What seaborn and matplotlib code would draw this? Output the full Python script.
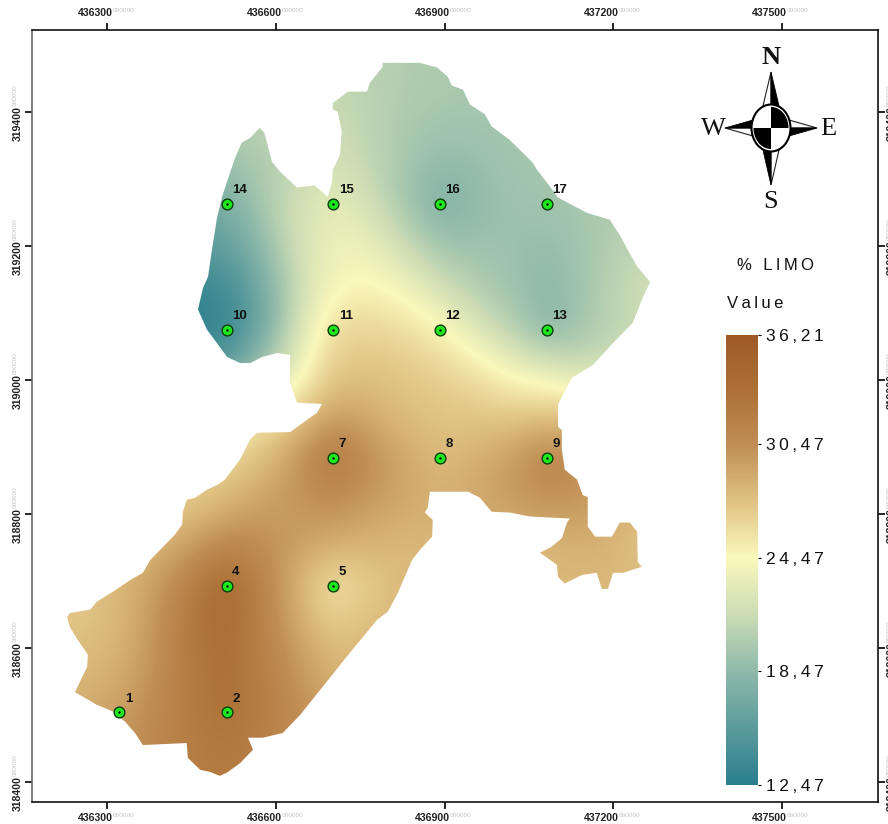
import numpy as np
import pandas as pd
import matplotlib
matplotlib.use('Agg')
import matplotlib.pyplot as plt
from matplotlib.colors import LinearSegmentedColormap
from matplotlib.patches import Polygon, Ellipse
import seaborn as sns

# sampling points
point_ids = [1, 2, 4, 5, 7, 8, 9, 10, 11, 12, 13, 14, 15, 16, 17]
point_x = [436321, 436512, 436512, 436702, 436702, 436892, 437082, 436512, 436702, 436892, 437082, 436512, 436702, 436892, 437082]
point_y = [318504, 318504, 318693, 318693, 318884, 318884, 318884, 319075, 319075, 319075, 319075, 319263, 319263, 319263, 319263]

# % limo
grid_x = [436194, 436258, 436321, 436385, 436448, 436512, 436575, 436639, 436702,
          436765, 436829, 436892, 436956, 437019, 437082, 437146, 437209, 437273]
grid_y = [319454, 319390, 319327, 319263, 319200, 319136, 319073, 319009, 318946,
          318884, 318819, 318756, 318693, 318629, 318566, 318503, 318439, 318376]
limo = [
    [21.0, 21.0, 21.0, 21.0, 21.0, 21.0, 21.0, 21.0, 21.0, 20.6, 20.2, 20.0, 19.8, 19.8, 19.8, 19.8, 19.8, 19.8],
    [20.5, 20.5, 20.5, 20.5, 20.5, 20.5, 20.7, 21.0, 21.5, 20.8, 20.0, 19.6, 19.6, 19.6, 19.8, 19.8, 19.8, 19.8],
    [18.8, 18.8, 18.8, 18.8, 19.0, 19.3, 20.0, 21.0, 22.0, 21.0, 19.6, 18.8, 19.0, 19.5, 19.7, 19.7, 19.7, 19.7],
    [16.5, 16.5, 16.6, 16.8, 17.0, 17.3, 19.8, 22.0, 23.3, 22.0, 19.5, 17.4, 18.6, 19.3, 19.4, 19.8, 20.0, 20.0],
    [15.0, 15.0, 15.0, 15.0, 15.3, 15.8, 18.5, 22.0, 23.7, 23.6, 21.5, 19.3, 19.2, 19.2, 18.8, 19.5, 20.5, 21.0],
    [13.2, 13.2, 13.2, 13.2, 13.3, 13.8, 16.8, 21.5, 24.2, 24.8, 24.0, 22.0, 20.2, 19.3, 18.4, 19.4, 21.0, 22.0],
    [12.8, 12.8, 12.8, 12.8, 12.8, 13.0, 16.5, 22.0, 26.3, 26.5, 26.0, 25.0, 22.8, 20.5, 18.0, 19.6, 21.0, 21.5],
    [15.0, 15.0, 15.0, 15.0, 15.5, 16.0, 20.0, 23.8, 27.0, 27.5, 27.2, 26.6, 25.8, 24.4, 23.2, 22.0, 22.0, 22.0],
    [22.0, 22.0, 22.0, 22.0, 23.0, 24.0, 25.5, 26.8, 29.5, 28.7, 27.7, 27.4, 27.2, 27.0, 27.5, 27.5, 27.5, 27.5],
    [26.0, 26.0, 26.0, 26.0, 26.0, 26.5, 27.5, 30.0, 33.0, 30.6, 29.0, 27.8, 28.5, 29.6, 31.5, 30.5, 30.0, 30.0],
    [27.0, 27.0, 27.0, 27.0, 27.0, 28.0, 29.3, 30.0, 30.6, 29.8, 29.0, 28.5, 29.0, 29.7, 30.3, 30.0, 29.0, 28.0],
    [28.0, 28.0, 28.0, 28.0, 29.3, 31.0, 30.5, 29.5, 28.8, 28.3, 28.0, 28.0, 28.0, 28.0, 28.0, 28.5, 28.0, 26.8],
    [27.0, 27.0, 28.0, 29.5, 32.0, 34.5, 31.5, 28.3, 25.2, 26.8, 28.0, 28.0, 28.0, 28.0, 28.0, 28.0, 28.0, 28.0],
    [27.0, 27.5, 28.0, 30.0, 32.5, 34.0, 31.5, 29.0, 27.0, 28.0, 28.0, 28.0, 28.0, 28.0, 28.0, 28.0, 28.0, 28.0],
    [28.0, 28.0, 28.5, 30.3, 32.3, 33.5, 32.0, 30.0, 28.3, 28.0, 28.0, 28.0, 28.0, 28.0, 28.0, 28.0, 28.0, 28.0],
    [28.5, 28.8, 29.5, 30.8, 32.3, 33.3, 32.0, 30.5, 29.3, 29.0, 28.0, 28.0, 28.0, 28.0, 28.0, 28.0, 28.0, 28.0],
    [30.0, 30.0, 30.2, 31.0, 32.0, 32.5, 31.8, 30.8, 30.0, 29.0, 28.0, 28.0, 28.0, 28.0, 28.0, 28.0, 28.0, 28.0],
    [30.0, 30.0, 30.2, 31.0, 32.0, 32.5, 31.8, 30.8, 30.0, 29.0, 28.0, 28.0, 28.0, 28.0, 28.0, 28.0, 28.0, 28.0],
]

# outline of the study area
border_x = [436790, 436856, 436887, 436906, 436913, 436933, 436945, 436972, 436984, 437016, 437056, 437065,
            437088, 437102, 437154, 437194, 437212, 437226, 437243, 437266, 437251, 437235, 437200, 437164,
            437127, 437111, 437102, 437102, 437109, 437109, 437114, 437136, 437146, 437155, 437155, 437168,
            437198, 437212, 437230, 437243, 437244, 437251, 437218, 437200, 437191, 437180, 437171, 437145,
            437114, 437102, 437100, 437070, 437091, 437109, 437118, 437123, 437052, 437016, 436984, 436963,
            436942, 436874, 436870, 436865, 436879, 436878, 436856, 436842, 436817, 436799, 436780, 436726,
            436643, 436612, 436577, 436550, 436559, 436536, 436513, 436500, 436482, 436465, 436443, 436441,
            436363, 436349, 436331, 436310, 436281, 436242, 436264, 436265, 436247, 436233, 436228, 436233,
            436269, 436281, 436310, 436340, 436363, 436376, 436420, 436433, 436434, 436441, 436456, 436477,
            436495, 436509, 436536, 436554, 436566, 436625, 436673, 436682, 436637, 436625, 436625, 436602,
            436575, 436554, 436536, 436513, 436477, 436461, 436470, 436479, 436486, 436495, 436505, 436527,
            436539, 436554, 436571, 436579, 436593, 436607, 436637, 436669, 436692, 436700, 436701, 436714,
            436717, 436710, 436701, 436701, 436728, 436762, 436767, 436789]
border_y = [319473, 319473, 319466, 319452, 319439, 319433, 319411, 319396, 319378, 319358, 319325, 319313,
            319288, 319272, 319249, 319239, 319216, 319194, 319169, 319146, 319119, 319085, 319055, 319022,
            319003, 318978, 318963, 318930, 318925, 318896, 318866, 318851, 318828, 318825, 318781, 318766,
            318766, 318787, 318787, 318773, 318728, 318721, 318712, 318712, 318688, 318688, 318712, 318709,
            318696, 318706, 318724, 318742, 318751, 318764, 318787, 318793, 318796, 318802, 318803, 318824,
            318833, 318833, 318809, 318802, 318791, 318766, 318746, 318731, 318682, 318654, 318642, 318587,
            318500, 318473, 318466, 318466, 318448, 318428, 318414, 318409, 318415, 318418, 318436, 318458,
            318455, 318473, 318490, 318505, 318515, 318534, 318572, 318590, 318612, 318631, 318646, 318652,
            318657, 318669, 318684, 318701, 318712, 318731, 318769, 318784, 318802, 318821, 318824, 318836,
            318843, 318851, 318881, 318911, 318921, 318922, 318951, 318964, 318966, 318996, 319037, 319040,
            319034, 319025, 319025, 319034, 319075, 319105, 319137, 319154, 319194, 319242, 319276, 319331,
            319354, 319361, 319376, 319369, 319325, 319311, 319287, 319290, 319273, 319296, 319313, 319336,
            319370, 319400, 319403, 319413, 319430, 319430, 319443, 319466]

x_ticks = [436300, 436600, 436900, 437200, 437500]
y_ticks = [318400, 318600, 318800, 319000, 319200, 319400]
legend_ticks = [36.21, 30.47, 24.47, 18.47, 12.47]
ramp_values = [12.47, 18.47, 21.47, 24.47, 27.47, 30.47, 33.3, 36.21]
ramp_colors = ['#2a7e8e', '#8eb9aa', '#ccdcb5', '#faf8bb', '#e0c283', '#c08e55', '#ad7036', '#9e5a28']

W, H = 888, 824
sns.set_style('white')
plt.rcParams['font.family'] = ['Liberation Sans', 'DejaVu Sans']
SERIF = ['Liberation Serif', 'DejaVu Serif']

vmin, vmax = legend_ticks[-1], legend_ticks[0]
cmap = LinearSegmentedColormap.from_list(
    'limo', [((v - vmin) / (vmax - vmin), c) for v, c in zip(ramp_values, ramp_colors)], N=512)

fig = plt.figure(figsize=(W / 100, H / 100), dpi=100)
ax = fig.add_axes([32 / W, 1 - 802 / H, (877.5 - 32) / W, (802 - 30) / H])

# surface
dx = (grid_x[-1] - grid_x[0]) / (len(grid_x) - 1) / 2
dy = (grid_y[0] - grid_y[-1]) / (len(grid_y) - 1) / 2
im = ax.imshow(np.array(limo), cmap=cmap, vmin=vmin, vmax=vmax, aspect='auto', interpolation='bicubic',
               extent=[grid_x[0] - dx, grid_x[-1] + dx, grid_y[-1] - dy, grid_y[0] + dy], zorder=1)
area = Polygon(np.column_stack([border_x, border_y]), closed=True, transform=ax.transData, fc='none', ec='none')
ax.add_patch(area)
im.set_clip_path(area)

# points
points = pd.DataFrame({'x': point_x, 'y': point_y, 'id': point_ids})
sns.scatterplot(data=points, x='x', y='y', ax=ax, s=60, color='#1fe81f', edgecolor='#0b3d0b', linewidth=1.0, zorder=3, legend=False)
sns.scatterplot(data=points, x='x', y='y', ax=ax, s=3, color='black', linewidth=0, zorder=4, legend=False)
for px, py, pid in zip(point_x, point_y, point_ids):
    ax.annotate(str(pid), (px, py), xytext=(4, 5.5), textcoords='offset points', fontsize=9.5,
                fontweight='bold', color='#111111', ha='left', va='bottom', zorder=5)

ax.set_xlim(436165.6, 437670.8)
ax.set_ylim(318370, 319522)
ax.set_xlabel('')
ax.set_ylabel('')
ax.set_xticks(x_ticks)
ax.set_yticks(y_ticks)
ax.tick_params(axis='both', length=5, width=1.2, color='black', top=True, right=True, bottom=True, left=True,
               labelbottom=False, labelleft=False, direction='out')
for name, spine in ax.spines.items():
    spine.set_linewidth(1.2)
    spine.set_color('#666666' if name == 'left' else '#111111')


# coordinate label with its pale run of zeros
def coord_label(value, side):
    tf = ax.get_xaxis_transform() if side in ('top', 'bottom') else ax.get_yaxis_transform()
    main = dict(fontsize=7.6, fontweight='bold', color='#222222', annotation_clip=False)
    ghost = dict(fontsize=4.6, color='#c4c4c4', annotation_clip=False)
    if side in ('top', 'bottom'):
        yy, off = (1, 12) if side == 'top' else (0, -11.5)
        ax.annotate(str(value), (value, yy), xycoords=tf, xytext=(4, off), textcoords='offset points',
                    ha='right', va='center', **main)
        ax.annotate('000000', (value, yy), xycoords=tf, xytext=(4, off + 2), textcoords='offset points',
                    ha='left', va='center', **ghost)
    else:
        xx, off = (0, -10) if side == 'left' else (1, 10)
        ax.annotate(str(value), (xx, value), xycoords=tf, xytext=(off, 4), textcoords='offset points',
                    ha='center', va='top', rotation=90, **main)
        ax.annotate('000000', (xx, value), xycoords=tf, xytext=(off - 2 if side == 'left' else off - 1.5, 4),
                    textcoords='offset points', ha='center', va='bottom', rotation=90, **ghost)


for v in x_ticks:
    coord_label(v, 'top')
    coord_label(v, 'bottom')
for v in y_ticks:
    coord_label(v, 'left')
    coord_label(v, 'right')

# legend bar
cax = fig.add_axes([726 / W, 1 - 785 / H, (758 - 726) / W, (785 - 335) / H])
ramp = np.linspace(vmax, vmin, 300).reshape(-1, 1)
sns.heatmap(ramp, ax=cax, cmap=cmap, vmin=vmin, vmax=vmax, cbar=False, xticklabels=False, yticklabels=False)
cax.yaxis.tick_right()
cax.set_yticks([(vmax - t) / (vmax - vmin) * 300 for t in legend_ticks])
cax.set_yticklabels(['\u2009'.join(f'{t:.2f}'.replace('.', ',')) for t in legend_ticks], rotation=0,
                    fontsize=12.6, color='#111111')
cax.tick_params(axis='y', right=True, length=2.5, width=0.8, pad=3, color='black')
cax.set_xlabel('')
cax.set_ylabel('')

# overlay in pixels for compass and legend titles
over = fig.add_axes([0, 0, 1, 1], facecolor='none')
over.set_xlim(0, W)
over.set_ylim(H, 0)
over.axis('off')
over.text(775, 265, '%\u2009 \u2009L\u2009I\u2009M\u2009O', fontsize=12, ha='center', va='center', color='#111111')
over.text(755, 303, 'V\u2009a\u2009l\u2009u\u2009e', fontsize=12, ha='center', va='center', color='#111111')

cx, cy = 771, 128
half = 8
spikes_black = [
    [(cx, 72), (cx + half, cy - 22), (cx, cy - 22)],
    [(817, cy), (cx + 18, cy + half), (cx + 18, cy)],
    [(cx, 185), (cx - half, cy + 22), (cx, cy + 22)],
    [(725, cy), (cx - 18, cy - half), (cx - 18, cy)],
]
spikes_white = [
    [(cx, 72), (cx - half, cy - 22), (cx, cy - 22)],
    [(817, cy), (cx + 18, cy - half), (cx + 18, cy)],
    [(cx, 185), (cx + half, cy + 22), (cx, cy + 22)],
    [(725, cy), (cx - 18, cy + half), (cx - 18, cy)],
]
for s in spikes_white:
    over.add_patch(Polygon(s, closed=True, fc='white', ec='#222222', lw=0.8))
for s in spikes_black:
    over.add_patch(Polygon(s, closed=True, fc='black', ec='black', lw=0.6))
over.add_patch(Ellipse((cx, cy), 39, 47, fc='white', ec='black', lw=1.5, zorder=3))
t = np.linspace(0, np.pi / 2, 30)
for sign in (1, -1):
    q = [(cx, cy)] + [(cx + sign * 17.5 * np.cos(a), cy - sign * 21 * np.sin(a)) for a in t]
    over.add_patch(Polygon(q, closed=True, fc='black', ec='none', zorder=4))
for letter, lx, ly in [('N', 771, 57), ('S', 771, 202), ('W', 713, 129), ('E', 828, 129)]:
    over.text(lx, ly, letter, family=SERIF, fontsize=19, ha='center', va='center', color='#111111',
              fontweight='bold' if letter == 'N' else 'normal')

fig.savefig('out.png', dpi=100, facecolor='white')
